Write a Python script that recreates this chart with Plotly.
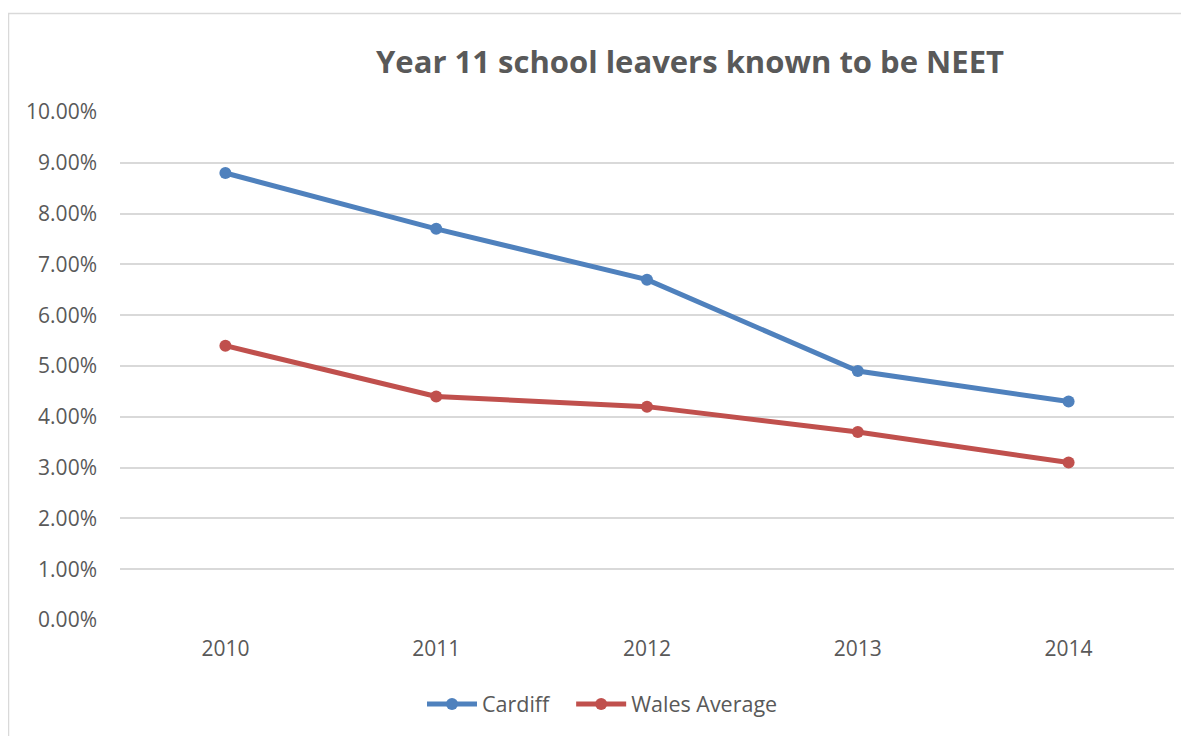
import plotly.graph_objects as go

years = ["2010", "2011", "2012", "2013", "2014"]
cardiff = [0.088, 0.077, 0.067, 0.049, 0.043]
wales_avg = [0.054, 0.044, 0.042, 0.037, 0.031]
y_ticks = [i / 100 for i in range(0, 11)]

TEXT = "#595959"
FONT = "Open Sans"

# page body has an 8px margin, so the figure is laid out in coordinates shifted by 8px
W, H = 1181, 728
L, R, T, B = 112, 15, 104, 116
PW, PH = W - L - R, H - T - B

fig = go.Figure()
fig.add_trace(go.Scatter(x=years, y=cardiff,
                         name="Cardiff&nbsp;&nbsp;<span style='color:rgba(0,0,0,0)'>.</span>",
                         mode="lines+markers",
                         line=dict(color="#4F81BD", width=5), marker=dict(size=12, color="#4F81BD")))
fig.add_trace(go.Scatter(x=years, y=wales_avg, name="Wales Average", mode="lines+markers",
                         line=dict(color="#C0504D", width=5), marker=dict(size=12, color="#C0504D")))

fig.update_layout(
    width=W, height=H,
    margin=dict(l=L, r=R, t=T, b=B),
    paper_bgcolor="white", plot_bgcolor="white",
    font=dict(family=FONT, color=TEXT, size=21),
    title=dict(text="<b>Year 11 school leavers known to be NEET</b>", x=682/W, xanchor="center",
               y=1 - 54/H, yanchor="middle", font=dict(size=31, color=TEXT, family=FONT)),
    legend=dict(orientation="h", x=(414 - L)/PW, xanchor="left", y=(PH - (696 - T))/PH, yanchor="middle",
                font=dict(size=21.5, color=TEXT), itemwidth=50),
    showlegend=True,
)
fig.update_xaxes(type="category", range=[-0.5, 4.5], showgrid=False, showline=False, zeroline=False,
                 ticks="", ticklabelstandoff=14, tickfont=dict(size=21, color=TEXT))
fig.update_yaxes(range=[0, 0.10], tickvals=y_ticks, tickformat=".2%", showgrid=True,
                 gridcolor="#D9D9D9", gridwidth=1.5, zeroline=False, showline=False,
                 ticks="", ticklabelstandoff=22, tickfont=dict(size=21, color=TEXT))

fig.add_shape(type="rect", xref="paper", yref="paper",
              x0=(0.5 - L) / PW, x1=(W + 20 - L) / PW,
              y0=-(H + 20 - T - PH) / PH, y1=(PH + T - 5.5) / PH,
              line=dict(color="#D9D9D9", width=1.5), fillcolor="rgba(0,0,0,0)", layer="below")

fig.write_html("out.html")
